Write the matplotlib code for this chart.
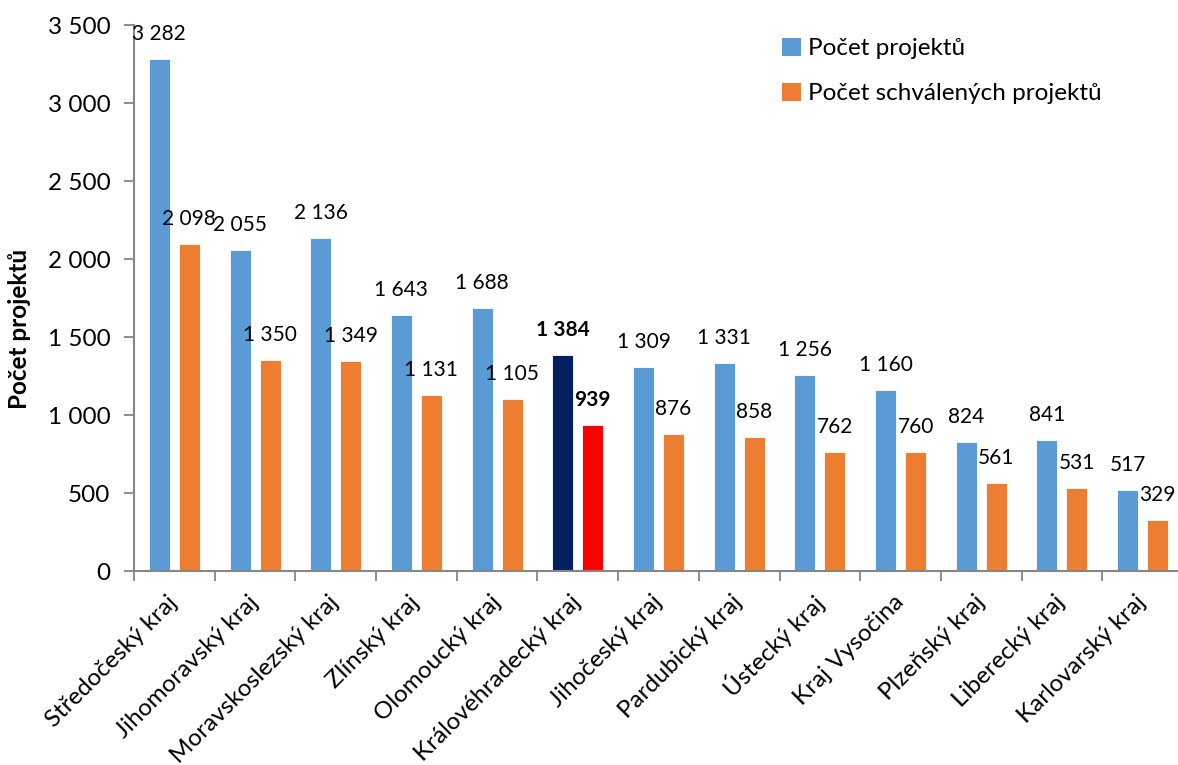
import matplotlib
matplotlib.use("Agg")
import matplotlib.pyplot as plt
from matplotlib.patches import Patch
from matplotlib.ticker import FuncFormatter, FixedLocator
import numpy as np

categories = ["Středočeský kraj", "Jihomoravský kraj", "Moravskoslezský kraj", "Zlínský kraj",
              "Olomoucký kraj", "Královéhradecký kraj", "Jihočeský kraj", "Pardubický kraj",
              "Ústecký kraj", "Kraj Vysočina", "Plzeňský kraj", "Liberecký kraj", "Karlovarský kraj"]
projects = [3282, 2055, 2136, 1643, 1688, 1384, 1309, 1331, 1256, 1160, 824, 841, 517]
approved = [2098, 1350, 1349, 1131, 1105, 939, 876, 858, 762, 760, 561, 531, 329]
series_names = ["Počet projektů", "Počet schválených projektů"]
highlight = "Královéhradecký kraj"

BLUE, ORANGE = "#5B9BD5", "#ED7D31"
NAVY, RED = "#002060", "#FF0000"
FONT = ["Lato", "DejaVu Sans"]
plt.rcParams['font.family'] = FONT
FS = 15

W, H = 1178, 765
fig = plt.figure(figsize=(W / 100, H / 100), dpi=100)
ax = fig.add_axes([134 / W, 1 - 571 / H, (1183 - 134) / W, (571 - 25) / H])

x = np.arange(len(categories))
bw = 0.26
off = 0.186
hi = categories.index(highlight)
c1 = [NAVY if i == hi else BLUE for i in range(len(x))]
c2 = [RED if i == hi else ORANGE for i in range(len(x))]
b1 = ax.bar(x - off, projects, bw, color=c1, edgecolor="white", linewidth=0.6)
b2 = ax.bar(x + off, approved, bw, color=c2, edgecolor="white", linewidth=0.6)

def fmt(v):
    return f"{int(v):,}".replace(",", " ")

for bars, vals in [(b1, projects), (b2, approved)]:
    for i, (r, v) in enumerate(zip(bars, vals)):
        ax.annotate(fmt(v), (r.get_x() + r.get_width() / 2, v),
                    xytext=(0, 18), textcoords="offset points",
                    ha="center", va="center", fontsize=FS,
                    fontweight="bold" if i == hi else "normal", color="black")

ax.set_xlim(-0.5, len(categories) - 0.5)
ax.set_ylim(0, 3500)
ax.set_yticks(np.arange(0, 3501, 500))
ax.yaxis.set_major_formatter(FuncFormatter(lambda v, p: fmt(v)))
ax.tick_params(axis="y", labelsize=17.5, length=7, width=1.3, color="#868686", pad=10)

ax.set_xticks(x)
ax.set_xticklabels(categories, rotation=45, ha="right", va="center",
                   rotation_mode="anchor", fontsize=17.5)
ax.tick_params(axis="x", which="major", length=0, pad=20)
for lab in ax.get_xticklabels():
    lab.set_x(lab.get_position()[0])
ax.xaxis.set_minor_locator(FixedLocator(np.arange(-0.5, len(categories), 1.0)))
ax.tick_params(axis="x", which="minor", length=7, width=1.3, color="#868686")

for sp in ["top", "right"]:
    ax.spines[sp].set_visible(False)
for sp in ["left", "bottom"]:
    ax.spines[sp].set_color("#868686")
    ax.spines[sp].set_linewidth(1.5)

fig.text(20 / W, 1 - 329 / H, "Počet projektů", rotation=90, ha="center", va="center",
         fontsize=17.5, fontweight="bold")

handles = [Patch(facecolor=BLUE, label=series_names[0]), Patch(facecolor=ORANGE, label=series_names[1])]
leg = fig.legend(handles=handles, loc="upper left", bbox_to_anchor=(772 / W, 1 - 28 / H),
                 frameon=False, fontsize=17.5, handlelength=0.8, handleheight=0.8,
                 handletextpad=0.3, labelspacing=0.95, borderaxespad=0)

fig.savefig("out.png", dpi=100)
